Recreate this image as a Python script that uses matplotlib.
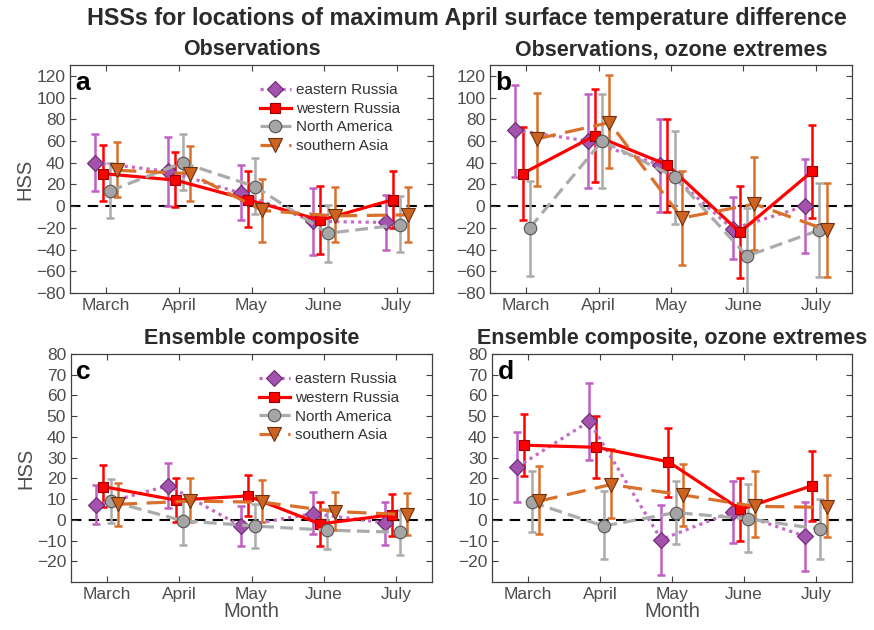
import numpy as np
import matplotlib
matplotlib.use('Agg')
import matplotlib.pyplot as plt

plt.rcParams['font.family'] = ['Liberation Sans', 'DejaVu Sans']

months = ['March', 'April', 'May', 'June', 'July']
regions = ['eastern Russia', 'western Russia', 'North America', 'southern Asia']

# HSS values and error bar ends (low, high), per panel and region
obs = {
    'eastern Russia': [40, 32, 12, -14, -15],
    'western Russia': [30, 24, 6, -13, 6],
    'North America': [14, 40, 18, -25, -17],
    'southern Asia': [33, 30, -4, -9, -8],
}
obs_lo = {
    'eastern Russia': [14, 0, -13, -45, -40],
    'western Russia': [5, -1, -19, -44, -20],
    'North America': [-11, 15, -7, -51, -42],
    'southern Asia': [8, 5, -33, -33, -33],
}
obs_hi = {
    'eastern Russia': [66, 64, 38, 17, 10],
    'western Russia': [56, 50, 32, 19, 32],
    'North America': [40, 66, 44, 1, 9],
    'southern Asia': [59, 55, 25, 18, 18],
}

obs_oz = {
    'eastern Russia': [70, 60, 38, -21, 0],
    'western Russia': [30, 65, 38, -24, 32],
    'North America': [-20, 60, 27, -46, -22],
    'southern Asia': [62, 77, -11, 2, -22],
}
obs_oz_lo = {
    'eastern Russia': [27, 17, -5, -49, -43],
    'western Russia': [-13, 22, -5, -66, -11],
    'North America': [-64, 17, -16, -92, -65],
    'southern Asia': [19, 35, -54, -40, -65],
}
obs_oz_hi = {
    'eastern Russia': [112, 103, 80, 8, 43],
    'western Russia': [73, 108, 80, 19, 75],
    'North America': [23, 103, 69, -2, 21],
    'southern Asia': [104, 121, 32, 45, 21],
}

ens = {
    'eastern Russia': [7, 16.5, -3, 3, -1.5],
    'western Russia': [16, 9.5, 11.5, -2, 2.5],
    'North America': [9, -0.5, -3, -5, -6],
    'southern Asia': [7.5, 9, 8.5, 4, 2.5],
}
ens_lo = {
    'eastern Russia': [-2, 5.5, -12.5, -7, -12],
    'western Russia': [6, -1, 2, -12.5, -8],
    'North America': [-1.5, -12, -13.5, -14, -17],
    'southern Asia': [-3, -1, -1, -5, -7.5],
}
ens_hi = {
    'eastern Russia': [17, 27.5, 6.5, 13.5, 8.5],
    'western Russia': [26.5, 20, 21.5, 8.5, 12.5],
    'North America': [19.5, 10, 7.5, 5, 4.5],
    'southern Asia': [18, 20, 19, 13.5, 13],
}

ens_oz = {
    'eastern Russia': [25.5, 47.5, -9.5, 4, -8],
    'western Russia': [36, 35, 28, 5, 16.5],
    'North America': [8.5, -3, 3.5, 0.5, -4.5],
    'southern Asia': [9, 17, 12, 6.5, 6],
}
ens_oz_lo = {
    'eastern Russia': [8.5, 29, -26.5, -11, -24.5],
    'western Russia': [21, 20, 11, -10, -0.5],
    'North America': [-6, -19, -11.5, -15.5, -19],
    'southern Asia': [-7, 1, -3, -8.5, -8.5],
}
ens_oz_hi = {
    'eastern Russia': [42.5, 66, 7, 18.5, 8.5],
    'western Russia': [51, 50, 44.5, 20, 33],
    'North America': [23.5, 14, 18.5, 17.5, 10],
    'southern Asia': [26, 34, 27, 23.5, 21.5],
}

# styles per region
styles = {
    'eastern Russia': dict(off=-0.15, ls=(0, (1, 1.3)), lc='#C46BC6', ec='#C05FC4',
                           m='D', mfc='#A352AD', mec='#6A2A70', ms=8),
    'western Russia': dict(off=-0.05, ls='-', lc='#FF0000', ec='#FF0000',
                           m='s', mfc='#FF0000', mec='#9A0000', ms=7.5),
    'North America': dict(off=0.05, ls=(0, (4, 2)), lc='#ABABAB', ec='#ABABAB',
                          m='o', mfc='#A5A5A5', mec='#555555', ms=9),
    'southern Asia': dict(off=0.15, ls=(0, (6, 3)), lc='#D9702B', ec='#D9702B',
                          m='v', mfc='#CC6420', mec='#6B3010', ms=9.5),
}

fig = plt.figure(figsize=(8.74, 6.3), dpi=100)
fig.text(467 / 874, 1 - 18 / 630, 'HSSs for locations of maximum April surface temperature difference',
         fontsize=16.8, fontweight='bold', color='#2B2B2B', ha='center', va='center')

W, H = 874, 630
boxes = [(70, 65, 433, 293), (490, 65, 852, 293), (71, 354, 432, 582), (492, 354, 852, 582)]
titles = ['Observations', 'Observations, ozone extremes',
          'Ensemble composite', 'Ensemble composite, ozone extremes']
letters = ['a', 'b', 'c', 'd']
panels = [(obs, obs_lo, obs_hi), (obs_oz, obs_oz_lo, obs_oz_hi),
          (ens, ens_lo, ens_hi), (ens_oz, ens_oz_lo, ens_oz_hi)]

x = np.arange(1, 6)
for i, (box, (val, lo, hi)) in enumerate(zip(boxes, panels)):
    l, t, r, b = box
    ax = fig.add_axes([l / W, 1 - b / H, (r - l) / W, (b - t) / H])
    ax.axhline(0, color='black', lw=1.5, ls=(0, (5, 3.5)), zorder=1)
    for reg in regions:
        s = styles[reg]
        xs = x + s['off']
        v = np.array(val[reg], dtype=float)
        yerr = [v - np.array(lo[reg]), np.array(hi[reg]) - v]
        ax.errorbar(xs, v, yerr=yerr, fmt='none', ecolor=s['ec'], elinewidth=1.8,
                    capsize=2.8, capthick=1.8, zorder=2)
        ax.plot(xs, v, color=s['lc'], ls=s['ls'], lw=2.3, marker=s['m'],
                mfc=s['mfc'], mec=s['mec'], ms=s['ms'], mew=0.8, label=reg, zorder=3)
    ax.set_xlim(0.5, 5.5)
    if i < 2:
        ax.set_ylim(-80, 130)
        ax.set_yticks(np.arange(-80, 121, 20))
    else:
        ax.set_ylim(-30, 80)
        ax.set_yticks(np.arange(-20, 81, 10))
    ax.set_xticks(x)
    ax.set_xticklabels(months)
    ax.tick_params(direction='in', top=True, right=True, labelsize=12.5,
                   labelcolor='#4D4D4D', color='#404040', length=4, width=0.8)
    for sp in ax.spines.values():
        sp.set_color('#404040')
        sp.set_linewidth(0.9)
    ax.set_title(titles[i], fontsize=15.5, fontweight='bold', color='#2B2B2B', pad=7)
    ax.text(0.015, 0.975, letters[i], transform=ax.transAxes, fontsize=19,
            fontweight='bold', va='top', ha='left', color='black')
    if i % 2 == 0:
        ax.set_ylabel('HSS', fontsize=14.5, color='#4D4D4D', labelpad=1)
        ax.legend(loc='upper right', bbox_to_anchor=(0.96, 1.0), frameon=False,
                  fontsize=11, handlelength=2.0, handletextpad=0.35,
                  labelspacing=0.3, borderaxespad=0.8, labelcolor='#333333')
    if i >= 2:
        ax.set_xlabel('Month', fontsize=14.5, color='#4D4D4D', labelpad=0)

fig.savefig('out.png', dpi=100)
